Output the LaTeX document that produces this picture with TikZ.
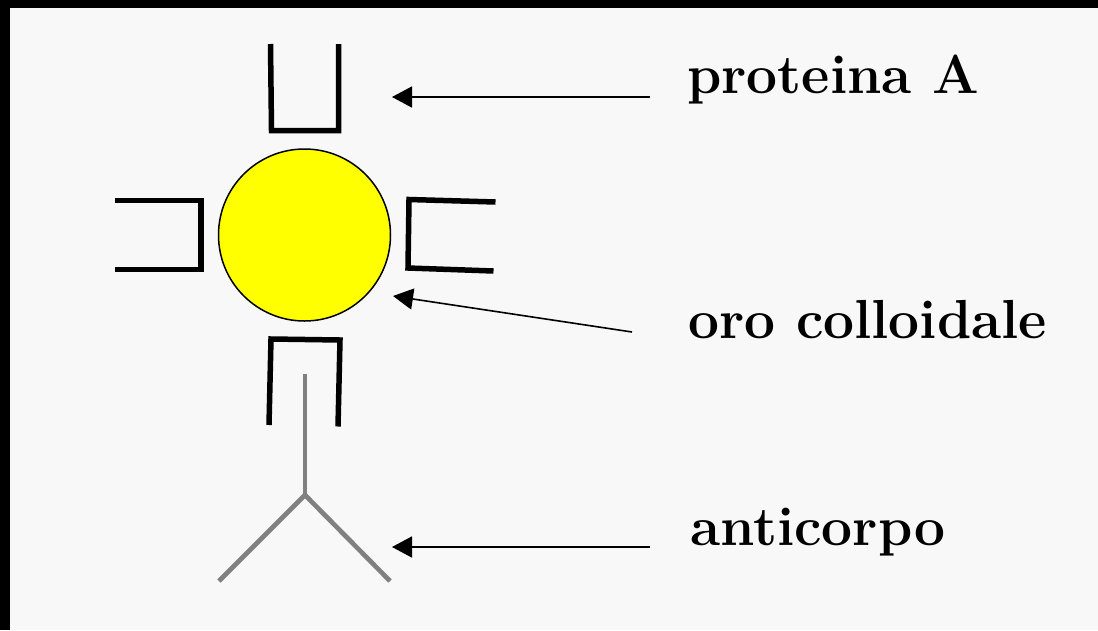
\documentclass[tikz,border=0pt]{standalone}
\usepackage{tikz}
\usetikzlibrary{arrows.meta}
\definecolor{paper}{HTML}{F8F8F8}
\definecolor{gold}{HTML}{FFFF00}
\definecolor{stem}{HTML}{808080}

\begin{document}
\begin{tikzpicture}[
  x=1pt, y=-1pt,
  label/.style={anchor=base west, inner sep=0pt, font=\fontsize{55}{60}\selectfont\bfseries},
  arrow/.style={-{Triangle[length=20pt,width=21pt]}, line width=1.6pt},
  bracket/.style={line width=5.5pt, line join=miter},
  antibody/.style={draw=stem, line width=4.7pt, line join=miter}
]
\useasboundingbox (0,0) rectangle (1098,630);
\fill (0,0) rectangle (1098,630);
\fill[paper] (10,8) rectangle (1098,630);

% gold particle
\node[circle, draw, fill=gold, line width=1.5pt, minimum size=172pt, inner sep=0pt] (oro) at (304.5,235) {};

% protein A brackets
\draw[bracket] (270.5,44) -- (271.5,130.5) -- (338.5,130.5) -- (338.5,44);
\draw[bracket] (115,200.5) -- (201,200.5) -- (201,269.5) -- (115,269.5);
\draw[bracket] (495.5,202) -- (409,199.5) -- (408,268) -- (493.5,271);
\draw[bracket] (269,425) -- (271,339) -- (340,340) -- (338,426.5);

% antibody
\draw[antibody] (219,581) -- (305,495) -- (390,581);
\draw[antibody] (305,495) -- (305,374);

% labels
\node[label] (protA) at (687,93) {proteina A};
\node[label] (oroLab) at (688,338) {oro colloidale};
\node[label] (antiLab) at (690,545) {anticorpo};

\coordinate (protTip) at (392,97);
\coordinate (oroTip) at (393,296);
\coordinate (antiTip) at (392,547);

\draw[arrow] ([shift={(-37pt,-4pt)}]protA.base west) -- (protTip);
\draw[arrow] ([shift={(-56pt,6pt)}]oroLab.base west) -- (oroTip);
\draw[arrow] ([shift={(-40pt,-2pt)}]antiLab.base west) -- (antiTip);
\end{tikzpicture}
\end{document}
